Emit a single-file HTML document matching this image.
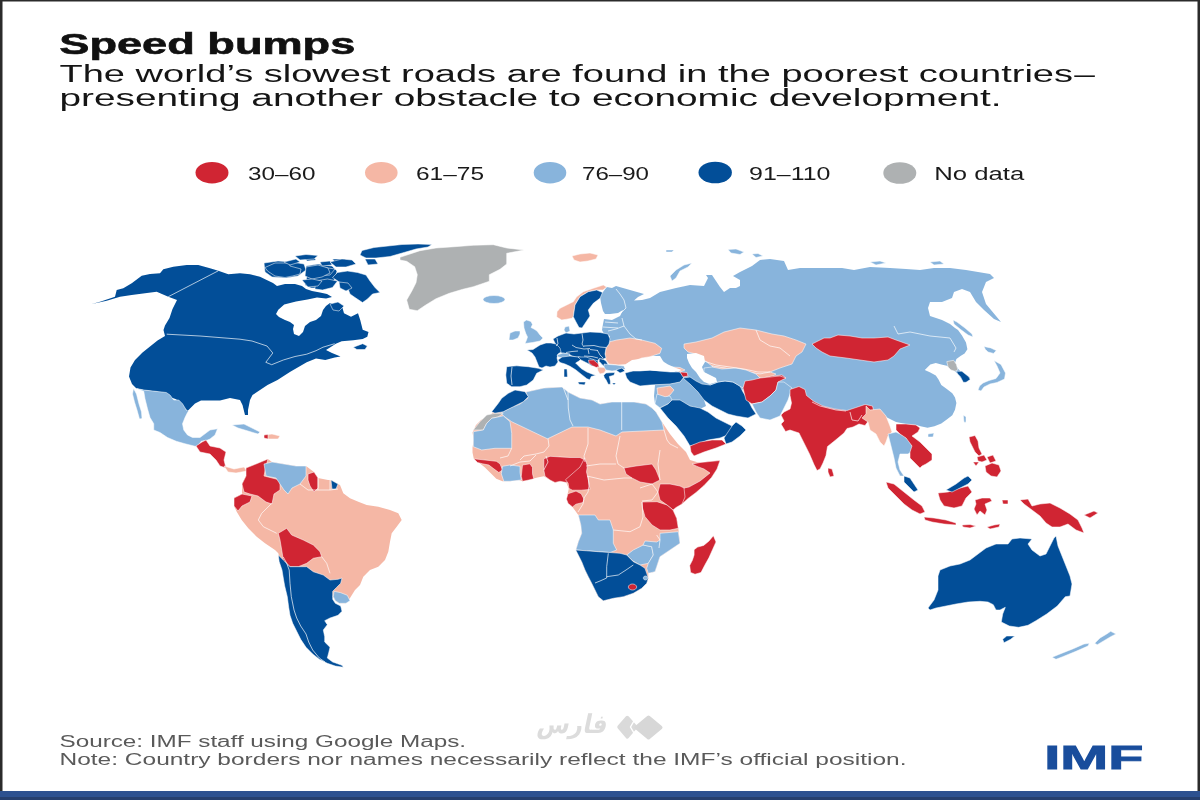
<!DOCTYPE html>
<html><head><meta charset="utf-8"><title>Speed bumps</title>
<style>
html,body{margin:0;padding:0;background:#fff;}
body{width:1200px;height:800px;overflow:hidden;position:relative;}
svg{position:absolute;left:0;top:0;}
.s{stroke:#fff;stroke-width:0.7;stroke-opacity:0.75;stroke-linejoin:round;}
.t{font-family:"Liberation Sans",sans-serif;}
</style></head><body>
<svg width="1200" height="800" viewBox="0 0 1200 800">
<rect x="0" y="0" width="1200" height="800" fill="#fff"/>
<g class="t">
<text x="59.3" y="53.5" font-size="29" font-weight="bold" fill="#111" stroke="#111" stroke-width="0.6" textLength="296" lengthAdjust="spacingAndGlyphs">Speed bumps</text>
<text x="59.5" y="81.8" font-size="23.5" fill="#151515" textLength="1013.5" lengthAdjust="spacingAndGlyphs">The world’s slowest roads are found in the poorest countries</text><text x="1074.3" y="81.8" font-size="23.5" fill="#151515" textLength="20.6" lengthAdjust="spacingAndGlyphs">—</text>
<text x="59.5" y="106.3" font-size="23.5" fill="#151515" textLength="942" lengthAdjust="spacingAndGlyphs">presenting another obstacle to economic development.</text>
</g>
<g>
<ellipse cx="212" cy="172.7" rx="16.5" ry="10.8" fill="#d02533"/>
<ellipse cx="381.3" cy="172.7" rx="16.3" ry="10.8" fill="#f5b7a5"/>
<ellipse cx="550" cy="172.7" rx="16.3" ry="10.8" fill="#88b4dc"/>
<ellipse cx="715.2" cy="172.5" rx="16.7" ry="10.8" fill="#024e98"/>
<ellipse cx="899.8" cy="173" rx="16.5" ry="10.8" fill="#aeb1b2"/>
</g>
<g class="t" font-size="17.5" fill="#1a1a1a">
<text x="248" y="179.5" textLength="67.5" lengthAdjust="spacingAndGlyphs">30–60</text>
<text x="416" y="179.5" textLength="68" lengthAdjust="spacingAndGlyphs">61–75</text>
<text x="582" y="179.5" textLength="67" lengthAdjust="spacingAndGlyphs">76–90</text>
<text x="749" y="179.5" textLength="81.5" lengthAdjust="spacingAndGlyphs">91–110</text>
<text x="934.3" y="179.7" textLength="90" lengthAdjust="spacingAndGlyphs">No data</text>
</g>
<g id="map" stroke="none">
<path fill="#024e98" d="M92,304 L100,301.7 L115,296.7 L116.7,290 L123.3,288.3 L131.7,283.3 L141.7,275.8 L150,274 L160,273.3 L163.3,269.2 L173.3,266.7 L186.7,265 L198.3,265 L210,268.3 L218.3,270.8 L228.3,274.2 L240,273.3 L250,274.2 L260,276.7 L266.7,280 L273,283 L277,286 L285,284 L295,284 L302,286 L306,289 L312,291 L320,292.5 L327,294 L332,297 L326,298.5 L317,297.5 L307.5,299.5 L296,301.5 L284.2,304.5 L278.3,309.8 L276,314 L279,317 L285,320 L290,322 L294,325 L293,329 L294,334 L299,336 L303,332 L305,326 L310,322 L316,320 L321,316 L323,310 L326,306 L330,303 L332.3,304 L341.7,305.2 L344,313.3 L351,316.8 L358,313.3 L360.3,320.3 L362.7,329.7 L368.5,332 L367.3,336.7 L362.7,339 L353.3,340.2 L341.7,341.3 L335.8,343.7 L332.3,346 L326,350 L332,353 L340.5,356.5 L334.7,357.5 L325.3,360 L316,358.5 L306.7,362.3 L298.5,367 L290.3,371.7 L283.3,376.3 L277.5,380 L267.5,385 L260,390 L252.5,395 L250,400 L248,410 L248,415 L245,415 L242.5,405 L240,400 L230,398 L220,400.5 L210,400.5 L201,400.5 L195,403.5 L190.5,408 L187.5,411 L184.5,408 L180,402 L175.5,399 L171,397.5 L165,393 L156,391.5 L144,390 L136.5,388.5 L132,384 L129,376.5 L130.5,367.5 L135,360 L142.5,352.5 L150,346.5 L157.5,340.5 L165,336 L163.5,330 L165,325.5 L169.5,318 L172.5,309 L177,300 L168.3,296.7 L156.7,291.7 L145,293.3 L131.7,295 L120,296.7 L106.7,300.8Z"/>
<path class="s" fill="#024e98" d="M353.3,347.2 L362.7,343.7 L367.3,346 L365,349.5 L356.9,349.5Z"/>
<path class="s" fill="#024e98" d="M264,263 L278,261 L292,262 L304,264 L306,270 L298,276 L286,278 L272,277 L265,272Z"/>
<path class="s" fill="#024e98" d="M306,266 L318,264 L332,266 L337,271 L335,279 L329,285 L320,288 L311,288 L305,285 L307,276Z"/>
<path class="s" fill="#024e98" d="M265,267.5 L275,263 L288.75,263 L290,266 L301,269 L300,274 L292.5,276 L285,277.5 L275,276 L267.5,271Z"/>
<path class="s" fill="#024e98" d="M312.5,269 L325,267.5 L335,269 L330,275 L317.5,276 L310,274Z"/>
<path class="s" fill="#024e98" d="M301,256 L312.5,255 L316,260 L307.5,261Z"/>
<path class="s" fill="#024e98" d="M332.5,259 L345,259 L350,264 L337.5,265Z"/>
<path class="s" fill="#024e98" d="M315,281 L327.5,279 L337.5,281 L332.5,287.5 L322.5,290 L315,289Z"/>
<path class="s" fill="#024e98" d="M337.5,272.5 L347.5,271 L357.5,272.5 L366,275 L370,281 L375,287.5 L380,292.5 L372.5,294 L367.5,299 L362.5,302.5 L355,297.5 L350,294 L347.5,287.5 L340,282.5 L332.5,277.5Z"/>
<path class="s" fill="#024e98" d="M362,250.5 L374,247.5 L388,246 L402,244.5 L418,244 L432,244.5 L428,247 L416,249 L404,252.5 L390,256.5 L376,258 L366,258 L360,255Z"/>
<path class="s" fill="#024e98" d="M284,262 L296,259 L300,262 L290,265Z"/>
<path class="s" fill="#024e98" d="M320,262 L330,261 L332,265 L322,266Z"/>
<path class="s" fill="#024e98" d="M330,304 L338,302 L344,306 L339,311 L333,310Z"/>
<path class="s" fill="#024e98" d="M306,267 L318,265 L328,268 L330,273 L322,277 L312,279 L305,276Z"/>
<path class="s" fill="#024e98" d="M302,280 L312,279 L322,281 L318,286 L308,287Z"/>
<path class="s" fill="#024e98" d="M330,262 L342,259 L352,260 L356,264 L346,267 L336,267Z"/>
<path class="s" fill="#024e98" d="M295,256 L306,254.5 L318,255.5 L314,259 L300,260Z"/>
<path class="s" fill="#024e98" d="M339,282 L348,283 L352,288 L346,291 L340,288Z"/>
<path class="s" fill="#024e98" d="M365,259 L375,259 L378,264 L368,265Z"/>
<path class="s" fill="#aeb1b2" d="M400,257.3 L420,250.7 L436,248 L454.7,246.7 L473.3,245.3 L493.3,244.7 L506.7,248 L524,250 L506.7,253.3 L506.7,264 L500,269.3 L489.3,274.7 L489.3,281.3 L481.3,284 L473.3,286.7 L462.7,289.3 L449.3,293.3 L436,298.7 L425.3,305.3 L417.3,310.7 L409.3,309.3 L406.7,300 L412,290.7 L416,282.7 L417.3,274.7 L414.7,266.7 L406.7,261.3 L400,260Z"/>
<path class="s" fill="#88b4dc" d="M505,299.5 L504.2,301 L501.8,302.3 L498.2,303.2 L494,303.5 L489.8,303.2 L486.2,302.3 L483.8,301 L483,299.5 L483.8,298 L486.2,296.7 L489.8,295.8 L494,295.5 L498.2,295.8 L501.8,296.7 L504.2,298Z"/>
<path class="s" fill="#88b4dc" d="M136.5,388.5 L143.75,390 L155,391.25 L166.25,392.5 L170,395 L173.75,400 L178.75,400 L182.5,403.75 L186.25,410 L188.5,411.5 L187.5,412.5 L185,417.5 L182.5,423.75 L183.75,430 L187.5,435 L192.5,437.5 L200,437.5 L205,433.75 L210,430 L217.5,428.75 L215,435 L210,439 L207.5,440 L201.25,441.25 L197.5,446.25 L195,446.25 L185,443.75 L176.25,441.25 L167.5,437.5 L160,432.5 L153.75,430 L153.75,423.75 L150,417.5 L147.5,408.75 L145,398.75 L143.75,391.25Z"/>
<path class="s" fill="#88b4dc" d="M133.5,388.5 L136.5,394 L139,404 L141.5,412 L142,418.5 L139.5,419 L137,410 L134.5,402 L132.5,394Z"/>
<path class="s" fill="#d02533" d="M196,446 L202,442 L206,440 L210,446 L220,448 L226,452 L224,460 L226,468 L220,466 L216,460 L210,454 L200,452Z"/>
<path class="s" fill="#f5b7a5" d="M224,466 L234,469 L244,467 L247,471 L236,473 L228,472Z"/>
<path class="s" fill="#88b4dc" d="M232,425 L244,424 L252,428 L260,432 L258,434 L248,431 L238,428Z"/>
<path class="s" fill="#f5b7a5" d="M264,435 L272,434 L280,436 L278,439 L268,439Z"/>
<path class="s" fill="#d02533" d="M264,435 L268,434.5 L268,439 L264,438Z"/>
<path fill="#88b4dc" d="M603,311 L601,303 L600,296 L603,292 L606.7,287 L612,288 L616,286 L630,290 L644,294 L638,297 L634,300.5 L642,300 L650,298 L660,292 L676,288 L690,285 L704,286 L708,278 L706,275 L712,275 L716,281 L720,287 L724,292 L730,288 L736,288 L740,286 L740,280 L733,276 L740,272 L752,266 L760,260 L770,259 L784,261 L788,270 L800,268 L812,268 L826,268 L842,268 L854,270 L870,267 L890,268 L906,269 L920,270 L934,268 L950,268 L966,270 L978,272 L990,274 L994,278 L986,282 L982,292 L986,304 L996,316 L1001,322 L994,319 L984,310 L976,302 L970,292 L962,289 L954,292 L952,298 L942,302 L930,302 L928,308 L930,316 L942,320 L950,324 L955,328 L958,330 L962,335.5 L966,342.4 L967.4,349.3 L964.6,353.4 L960.5,356.1 L956.4,358.9 L955,363 L957.8,368.5 L960.5,371.3 L964.6,374 L970.2,378.1 L967.4,380.9 L964.6,382.3 L961.9,379.5 L959.1,375.4 L955,371.3 L950.9,368.5 L946.8,365.8 L941.3,364.4 L935.8,363 L930.3,364.4 L924.8,369.9 L930.3,372.6 L935.8,375.4 L938.5,379.5 L941.3,385 L946.8,389.1 L952.3,393.3 L955,397.4 L956.4,402.9 L955,409.8 L952.3,415.3 L946.8,419.4 L941.3,423.5 L934.4,426.3 L927.5,427.7 L920.6,426.3 L916.5,424.9 L906,424 L896,422 L888,418 L880,414 L874,410 L866,412 L840,414 L815,408 L795,398 L785,390 L775,388 L750,390 L720,388 L700,386 L690,380 L684,376 L676,372 L666,366 L660,356 L650,356 L640,358 L630,362 L620,364 L610,362 L606,354 L608,342 L610,336 L604,334 L602,330 L603,324 L604,319 L612,320 L620,316 L623,310 L618,313 L610,314 L605,314Z"/>
<path class="s" fill="#88b4dc" d="M692,263 L684,265 L676,270 L670,276 L672,281 L676,278 L680,271 L688,267Z"/>
<path class="s" fill="#88b4dc" d="M953,320 L957,322 L965,328 L972,334 L973,337 L968,335 L960,329 L954,324Z"/>
<path class="s" fill="#88b4dc" d="M994,360.5 L1001,364.5 L1005.5,373 L1004.5,379 L997,382.5 L990,384 L984,387 L981,391 L978,390 L979.5,386 L983,383 L989,380.5 L996,378.5 L1000,373 L997,366Z"/>
<path class="s" fill="#88b4dc" d="M983.9,346.5 L990.8,347.9 L996.3,350.6 L993.5,353.4 L988,352 L985.3,349.3Z"/>
<path class="s" fill="#88b4dc" d="M963.3,415.3 L966,416.7 L966,422.2 L964,422.2Z"/>
<path class="s" fill="#88b4dc" d="M928,434 L934,433 L933,437 L928,437Z"/>
<path class="s" fill="#aeb1b2" d="M946.8,361.6 L953.6,360.3 L956.4,364.4 L957.8,369.9 L955,371.3 L950.9,369.9 L948.1,367.1Z"/>
<path class="s" fill="#024e98" d="M956.4,371.3 L961.9,371.3 L968.8,376.8 L970.2,379.5 L966,382.3 L963.3,382.3 L960.5,376.8 L957.8,374Z"/>
<path class="s" fill="#d02533" d="M830,338 L838,335 L850,336 L862,338 L874,338 L888,337 L896,340 L910,345 L900,349 L894,356 L888,360 L874,362 L860,360 L846,358 L830,356 L822,352 L816,348 L812,344 L824,338Z"/>
<path class="s" fill="#f5b7a5" d="M684,344 L696,342 L712,338 L724,332 L740,328 L756,330 L772,334 L784,336 L796,340 L806,344 L802,352 L796,356 L792,364 L780,368 L770,372 L760,374 L748,372 L736,370 L724,368 L712,366 L704,360 L696,354 L688,352 L684,348Z"/>
<path class="s" fill="#f5b7a5" d="M712,366 L724,368 L736,370 L748,372 L760,374 L770,372 L776,374 L770,378 L760,378 L752,380 L744,382 L736,378 L726,374 L716,372Z"/>
<path class="s" fill="#d02533" d="M762,378 L772,376 L782,375 L786,378 L778,381 L768,381Z"/>
<path class="s" fill="#f5b7a5" d="M610,341.7 L616.7,340 L630,338 L641.7,340 L655,343.3 L661.7,348.3 L660,353.3 L650,356.7 L641.7,358 L636.7,360 L630,362 L626,364.5 L618,365 L609,364 L606,360 L605,354 L606,348 L609,344Z"/>
<path class="s" fill="#f5b7a5" d="M556.7,317 L557,311.7 L560,308.3 L566.7,305 L573.3,301.7 L576.7,296.7 L583.3,291.7 L593.3,288.3 L603.3,285 L606.7,287 L603,290 L596.7,290 L588.3,291.7 L580,296.7 L575,305 L573.3,316.7 L571.7,318.3 L566.7,319.2 L561.7,320Z"/>
<path class="s" fill="#024e98" d="M575,305 L580,296.7 L588.3,291.7 L596.7,290 L602.5,292.5 L600,298.3 L593.3,303.3 L588.3,310 L590,316 L586,322 L582,328 L579,327.5 L576,322 L573.3,316.7Z"/>
<path class="s" fill="#88b4dc" d="M565,327 L569,326 L570,331 L566,333 L564,330Z"/>
<path class="s" fill="#88b4dc" d="M523.5,322 L526.5,320 L531,321.5 L532.5,324.5 L531,327.5 L534,329 L537,331 L540,335 L543,338 L540,341 L532.5,342.5 L525,343.5 L526.5,340 L527.5,337 L525.8,333.5 L524,328Z"/>
<path class="s" fill="#88b4dc" d="M510,333 L515,331 L520,331 L520,334 L518,338 L513,340 L509,340 L509.5,336Z"/>
<path class="s" fill="#024e98" d="M553,339 L558,336 L566,333 L574,334 L582,333 L590,332 L600,332.5 L608,334 L610,339 L609,344 L606,348 L605,354 L606,358 L603,359 L599,359 L597,362 L590,362 L585,360 L580,357 L576,357 L572,356 L568,354 L562,353 L558,351 L556,345Z"/>
<path class="s" fill="#024e98" d="M540,345 L546,343 L551,343 L556,344 L560,348 L561,352 L558,354 L557,358 L558,362 L555,366 L550,367 L546,366 L542,368 L539,367 L537,362 L535,357 L532,353 L527,350 L533,349.5Z"/>
<path class="s" fill="#024e98" d="M506.7,366.7 L516.7,365.8 L528.3,366.7 L538.3,368.3 L543.3,370 L536.7,373.3 L533.3,380 L526.7,385 L520,386.7 L511.7,386.7 L506.7,383.3 L505.8,375Z"/>
<path class="s" fill="#88b4dc" d="M557,355 L563,353 L570,354 L569,357 L563,358 L558,357Z"/>
<path class="s" fill="#024e98" d="M558,360 L562,357 L570,356 L578,357 L582,358 L579,361 L575.6,363 L581.2,368.6 L586.9,372 L592.5,374.2 L595.8,375.3 L591.3,376.5 L589.7,379.8 L586.9,378.7 L581.2,374.2 L575.6,369.7 L570,366.3 L565,364 L560,362.5Z"/>
<path class="s" fill="#024e98" d="M577.9,382 L585.7,382 L584.6,384.9 L579,384.3Z"/>
<path class="s" fill="#024e98" d="M564,369 L567,369 L567.5,377 L564,377Z"/>
<path class="s" fill="#024e98" d="M578,357 L586,357 L592,359 L598,361 L598,365 L592,366 L589,364 L585,362 L581,360Z"/>
<path class="s" fill="#024e98" d="M599.2,358.5 L603.7,359.6 L606,361 L608.2,364.7 L608.8,367.5 L604.8,367 L601.5,364 L599.2,361.3Z"/>
<path class="s" fill="#d02533" d="M588.5,360 L593.6,360 L598,363.5 L599.2,367 L596.4,367.5 L592.5,365.8 L589,363Z"/>
<path class="s" fill="#f5b7a5" d="M597,367 L604.8,367.5 L606,370 L604,373 L600,374 L598,371Z"/>
<path class="s" fill="#88b4dc" d="M604,364 L609,364.5 L616,365 L624,366 L626,369 L620,370 L612,371 L606,370 L604,367Z"/>
<path class="s" fill="#024e98" d="M603.7,375.3 L606,373 L609.3,372.8 L615,372.5 L613.8,375.3 L609.3,376.5 L610.4,381 L610.4,384.3 L608.2,384.3 L606,379.8 L604.3,377.6Z"/>
<path class="s" fill="#024e98" d="M612,383 L616,383 L614,385Z"/>
<path fill="#88b4dc" d="M655,385 L660,384.5 L670,384 L680,382 L684,377 L690,377 L696,381 L700,390 L704,400 L706,406 L700,409 L690,406 L680,402 L670,400 L660,404 L655,404 L654,396Z"/>
<path class="s" fill="#024e98" d="M625,373 L633,371 L640,371 L650,370 L660,371 L670,372 L680,372 L684,377 L680,382 L670,384 L660,384.5 L650,385 L640,386 L630,382 L626.7,378Z"/>
<path class="s" fill="#024e98" d="M616,370 L622,368 L625,371 L620,373Z"/>
<path class="s" fill="#f5b7a5" d="M672,367 L680,367.5 L685,370 L680,372 L673,370Z"/>
<path class="s" fill="#d02533" d="M680,372 L687,372.5 L688,376 L683,377Z"/>
<path class="s" fill="#024e98" d="M683,378 L690,377 L696,381 L702,384 L710,385 L718,382 L725,381 L733,382 L740,386 L743,392 L748,400 L752,408 L756,414 L748,418 L736,416 L728,414 L720,410 L712,406 L704,400 L698,392 L690,384Z"/>
<path class="s" fill="#88b4dc" d="M704,368 L712,367 L722,369 L736,368 L746,370 L756,374 L760,378 L752,382 L745,383 L743,388 L733,382 L725,381 L718,382 L710,385 L704,380Z"/>
<path class="s" fill="#f5b7a5" d="M657,388 L670,386 L674,390 L670,395 L665,398 L658,396Z"/>
<path class="s" fill="#88b4dc" d="M657,394 L665,396.7 L670,396 L672,400 L668,404 L660,408 L655,404Z"/>
<path class="s" fill="#024e98" d="M660,408 L668,404 L672,400 L680,400 L690,406 L700,408 L708,412 L716,418 L724,422 L732,426 L730,434 L720,438 L708,440 L698,444 L690,446 L684,436 L676,426 L668,418Z"/>
<path class="s" fill="#024e98" d="M732,426 L736,422 L742,426 L746,430 L740,436 L732,442 L726,444 L724,438Z"/>
<path class="s" fill="#d02533" d="M690,446 L700,442 L712,440 L722,440 L726,444 L716,448 L704,452 L694,456 L691,452Z"/>
<path class="s" fill="#d02533" d="M743,388 L745,381 L752,380 L760,378 L770,377 L780,376 L786,378 L778,382 L776,390 L770,396 L762,402 L752,404 L746,400Z"/>
<path class="s" fill="#88b4dc" d="M752,404 L762,402 L770,396 L776,390 L778,382 L784,382 L792,388 L788,400 L784,408 L780,416 L770,420 L760,418 L756,412Z"/>
<path class="s" fill="#d02533" d="M790,389.5 L799,386.5 L805,389.5 L806.5,395.5 L814,401.5 L823,406 L835,409 L847,410.5 L856,407.5 L865,404.5 L872.5,406 L874,412 L869.5,419.5 L865,425.5 L859,424 L853,427 L847,428.5 L844,433 L835,440.5 L827.5,446.5 L826,455.5 L823,463 L820,469 L817,470.5 L814,464.5 L809.5,454 L803.5,442 L799,433 L794.5,431.5 L790,430 L785.5,431.5 L781,424 L784,421 L781,415 L784,412 L790,409 L791.5,403 L790,395.5Z"/>
<path class="s" fill="#d02533" d="M828,468 L832,469 L834,476 L830,477 L828,472Z"/>
<path class="s" fill="#f5b7a5" d="M866,406 L870,410 L880,409 L886,416 L890,426 L892,432 L888,436 L886,442 L884,446 L880,442 L876,434 L870,430 L868,422 L862,418 L866,414Z"/>
<path class="s" fill="#88b4dc" d="M888,434 L896,432 L904,436 L910,442 L914,450 L908,454 L900,454 L898,462 L900,470 L904,476 L900,476 L896,468 L894,458 L892,450 L890,442Z"/>
<path class="s" fill="#d02533" d="M896,424 L906,424 L916,425 L920,428 L918,432 L912,436 L920,442 L926,448 L932,454 L932,460 L926,464 L922,466 L920,468 L914,462 L910,458 L910,452 L912,446 L906,438 L900,434 L896,430Z"/>
<path class="s" fill="#024e98" d="M904,476 L910,478 L914,484 L918,490 L914,492 L908,486 L904,482Z"/>
<path class="s" fill="#d02533" d="M886,482 L894,484 L904,492 L914,500 L922,506 L925,512 L920,514 L912,510 L904,504 L896,496 L888,488Z"/>
<path class="s" fill="#d02533" d="M924,517 L934,518 L946,520 L956,523 L956,525 L944,524 L932,522 L925,520Z"/>
<path class="s" fill="#d02533" d="M962,525 L970,524.5 L976,526 L970,528 L963,527Z"/>
<path class="s" fill="#d02533" d="M987,527 L994,525 L1000,524 L999,527 L990,529Z"/>
<path class="s" fill="#d02533" d="M938,493 L948,492 L960,488 L968,486 L972,492 L966,498 L962,506 L954,508 L944,506 L940,500Z"/>
<path class="s" fill="#024e98" d="M946,490 L956,484 L964,478 L968,476 L972,480 L968,484 L960,488 L952,492Z"/>
<path class="s" fill="#d02533" d="M975,500 L982,498 L990,498 L992,501 L985,504 L987,510 L985,515 L980,511 L977,515 L974,509 L976,504Z"/>
<path class="s" fill="#d02533" d="M969,437 L975,435.5 L978,441 L979,448 L982,454 L979,456 L975,452 L972,446 L970,442Z"/>
<path class="s" fill="#d02533" d="M985,466 L992,463 L999,465 L1001,471 L997,477 L991,476 L986,472Z"/>
<path class="s" fill="#d02533" d="M977,457 L984,455 L987,460 L982,462 L978,461Z"/>
<path class="s" fill="#d02533" d="M987,457 L993,455 L996,461 L990,463Z"/>
<path class="s" fill="#d02533" d="M973,462 L979,462 L976,466Z"/>
<path class="s" fill="#d02533" d="M1020,500 L1028,499 L1032,506 L1040,504 L1050,503 L1060,508 L1070,514 L1078,520 L1082,528 L1084,533 L1076,530 L1068,524 L1060,527 L1052,527 L1046,523 L1040,516 L1032,510 L1024,504Z"/>
<path class="s" fill="#d02533" d="M1084,515 L1094,511 L1098,513 L1090,518Z"/>
<path class="s" fill="#d02533" d="M1002,500 L1008,500 L1008,504 L1003,504Z"/>
<path class="s" fill="#024e98" d="M928,608 L934,600 L938,590 L938,576 L940,570 L950,566 L960,564 L970,560 L978,554 L986,548 L996,544 L1008,544 L1012,539 L1020,538 L1032,539 L1028,544 L1032,550 L1040,556 L1046,554 L1050,546 L1054,538 L1056,536 L1058,546 L1062,556 L1066,566 L1070,576 L1072,584 L1070,596 L1065.3,596.7 L1057.3,606 L1046.7,614 L1036,620.7 L1028,625.3 L1018.7,627.3 L1009.3,626 L1001.3,622 L1002.7,614 L1005.3,607.3 L1000,610 L996,610 L993.3,604.7 L988,602 L980,601.3 L968,602 L956,604 L946,606 L936,608 L930,610Z"/>
<path class="s" fill="#024e98" d="M1002.7,639.3 L1006.7,636 L1014.7,636 L1010.7,639.3 L1004,642.7Z"/>
<path class="s" fill="#88b4dc" d="M1052,657.3 L1060,654 L1073.3,648.7 L1084,644 L1089.3,643.3 L1088,646 L1076,651.3 L1062.7,656.7 L1056,659.3Z"/>
<path class="s" fill="#88b4dc" d="M1094.7,643.3 L1100,638 L1106.7,634 L1110.7,631.3 L1116,634 L1110.7,636.7 L1104,640.7 L1097.3,644.7Z"/>
<path fill="#f5b7a5" d="M504,398 L510,394 L520,391 L526,392 L544,388 L562,387 L568,392 L580,398 L592,400 L600,404 L612,402 L622,402 L634,402 L646,404 L652,408 L656,412 L662,422 L670,434 L678,444 L686,452 L690,460 L700,463 L712,461 L720,460.5 L717,469 L711.5,477.5 L704,485.5 L696,492.5 L688,498.5 L682,504 L676,507.5 L673,510 L676.7,518.3 L678.3,528.3 L680,543.3 L670,550 L660,556.7 L656.7,566.7 L655,571.7 L648.3,573.3 L648.3,578.3 L646.7,583.3 L641.7,588.3 L633.3,593.3 L623.3,596.7 L613.3,598.3 L603.3,600.8 L598.3,596.7 L595,590 L591.7,583.3 L588.3,576.7 L585,570 L581.7,561.7 L578.3,555 L575.8,550 L578.3,541.7 L581.7,533.3 L580.8,525 L578.3,515 L572.5,507 L568.8,501.3 L566.9,497 L568.8,488.8 L566.3,482.5 L562.5,481.3 L555,482.5 L550,480 L543.8,476.3 L537.5,477.5 L530,479.4 L522.5,481.3 L518.8,480 L510,481.3 L502.5,481.3 L496.3,478.8 L490,472.5 L485,467.5 L478.8,462.5 L473.8,458.8 L472.5,452.5 L472.5,447.5 L473.8,440 L472.5,432.5 L476,425 L481,420 L490,416 L496,408 L500,402Z"/>
<path class="s" fill="#88b4dc" d="M501,413 L510,408 L520,404 L528,398 L526,392 L544,388 L562,387 L568,392 L580,398 L592,400 L600,404 L612,402 L622,402 L634,402 L646,404 L652,408 L656,412 L662,422 L664,430 L622,432 L616,436 L600,430 L588,427 L572,427 L547.5,438.8 L511.7,421.7 L503.3,415.8Z"/>
<path class="s" fill="#024e98" d="M491.7,411.7 L498.3,403.3 L501.7,398.3 L508.3,393.3 L515,390 L525,391.7 L528.3,396.7 L523.3,401.7 L513.3,406.7 L503.3,411.7 L495,413.3Z"/>
<path class="s" fill="#aeb1b2" d="M473.3,430 L480,421.7 L486.7,415 L495,413.3 L503.3,413.3 L498,417 L491.7,418.3 L486.7,423.3 L483.3,430Z"/>
<path class="s" fill="#88b4dc" d="M473.3,431.7 L483.3,430 L486.7,423.3 L491.7,418.3 L498,417 L503.3,415.8 L510,421.7 L511.7,433.3 L511.7,448.3 L495,448.3 L481.7,450 L473.3,446.7Z"/>
<path class="s" fill="#d02533" d="M473.8,458.8 L485,460 L496.3,461.3 L500,463.8 L502.5,470 L498.8,472.5 L493.8,468.8 L488.8,465 L482.5,463.8 L477.5,462.5Z"/>
<path class="s" fill="#88b4dc" d="M502.5,466.3 L510,465 L520,466.3 L520,472.5 L521.3,480 L510,481.3 L503.8,481.3 L501.3,473.8Z"/>
<path class="s" fill="#d02533" d="M522.5,465 L530,463.8 L532.5,467.5 L532.5,473.8 L533.8,478.8 L528.8,480 L522.5,481.3 L521.3,476.3Z"/>
<path class="s" fill="#d02533" d="M543.8,458.8 L550,456.3 L560,456.9 L570,457.5 L580,457.5 L585,460 L585,465 L580,470 L575,475 L570,478.8 L566.3,482.5 L560,481.3 L555,482.5 L550,480 L545,476.3 L543.8,470Z"/>
<path class="s" fill="#d02533" d="M584.7,457.9 L587.4,465.7 L586.5,471.9 L588.2,478.9 L590,489.4 L581.2,490.2 L572.5,490.2 L569,488.5 L568.1,483.2 L565.5,479.7 L572,474 L580,467Z"/>
<path class="s" fill="#d02533" d="M568,493.7 L576,491.1 L581.2,493.7 L583.9,499 L583,502.5 L576,504.2 L572.5,506.9 L568.1,503.4 L566.4,499Z"/>
<path class="s" fill="#d02533" d="M624,468 L636,466 L652,464 L656,470 L660,480 L652,484 L640,482 L632,478 L626,474Z"/>
<path class="s" fill="#d02533" d="M692,464 L700,462.5 L710,461.5 L720,460.5 L717,469 L711.5,477.5 L704,485.5 L696,492.5 L688,498.5 L682,504 L678,500 L681,494 L684,488 L689,487 L700,481 L710,473 L704,469 L697,466.4Z"/>
<path class="s" fill="#d02533" d="M660,484 L670,484 L680,486 L684,488 L685,497 L682,504 L676,507.5 L673,510 L667,505 L660,500 L658,492Z"/>
<path class="s" fill="#d02533" d="M642,502 L657,501.7 L667,505 L673,510 L676.7,518.3 L678.3,528.3 L670,530 L660,530 L652,525 L645,516.7 L642.5,508Z"/>
<path class="s" fill="#88b4dc" d="M578.3,515 L595,515 L598.3,520 L610,520 L613.3,530 L613.3,543.3 L616.7,550 L610,552.5 L598.3,551.7 L586.7,550.8 L575.8,550 L578.3,541.7 L581.7,533.3 L580.8,525Z"/>
<path class="s" fill="#88b4dc" d="M626.7,555 L633.3,550 L643.3,545 L651.7,546.7 L653.3,555 L648.3,563.3 L640,565 L633,561Z"/>
<path class="s" fill="#88b4dc" d="M660,533.3 L678.3,531.7 L680,543.3 L670,550 L660,556.7 L656.7,566.7 L655,571.7 L648.3,573.3 L646.7,568.3 L648.3,563.3 L653.3,555 L651.7,546.7 L643,545 L645,541 L656.7,542 L660,540Z"/>
<path class="s" fill="#024e98" d="M575.8,550 L586.7,550.8 L598.3,551.7 L610,552.5 L620,553.3 L626.7,555 L633.3,561.7 L640,565 L645,568.3 L646.7,573.3 L648.3,578.3 L646.7,583.3 L641.7,588.3 L633.3,593.3 L623.3,596.7 L613.3,598.3 L603.3,600.8 L598.3,596.7 L595,590 L591.7,583.3 L588.3,576.7 L585,570 L581.7,561.7 L578.3,555Z"/>
<path class="s" fill="#d02533" d="M636.7,587 L636.4,588.1 L635.5,589.1 L634.1,589.8 L632.5,590 L630.9,589.8 L629.5,589.1 L628.6,588.1 L628.3,587 L628.6,585.9 L629.5,584.9 L630.9,584.2 L632.5,584 L634.1,584.2 L635.5,584.9 L636.4,585.9Z"/>
<path class="s" fill="#88b4dc" d="M647.7,578 L647.5,578.8 L647.1,579.4 L646.3,579.8 L645.5,580 L644.7,579.8 L643.9,579.4 L643.5,578.8 L643.3,578 L643.5,577.2 L643.9,576.6 L644.7,576.2 L645.5,576 L646.3,576.2 L647.1,576.6 L647.5,577.2Z"/>
<path class="s" fill="#d02533" d="M713.4,535.7 L716,541.9 L712.5,549.7 L709,557.6 L704.6,565.5 L701,572.5 L695,574.2 L690.6,572.5 L689.7,565.5 L692.4,560.2 L694.1,555 L694.1,549.7 L697.6,547.1 L703.7,545.4 L709,541Z"/>
<path fill="#f5b7a5" d="M246,468 L256,464 L268,459 L272,462 L284,464 L296,466 L306,466 L314,472 L318,478 L328,480 L331,480 L338,484 L340,485 L343.3,493.3 L350,498.3 L358.3,501.7 L366.7,505 L378.3,506.7 L390,510 L398.3,513.3 L401.7,520 L396.7,526.7 L391.7,533.3 L390,541.7 L388.3,551.7 L385,560 L378.3,566.7 L370,570 L363.3,576.7 L360,585 L355,590 L350,598 L346,603.3 L339.3,603.3 L335.3,600.7 L333.3,596.7 L330,590 L320,580 L300,570 L280,560 L278.3,553.3 L275,550 L265,543.3 L256.7,536.7 L248.3,528.3 L241.7,520 L236.7,511.7 L234,506 L234,498 L242,494 L242,484 L246,476Z"/>
<path class="s" fill="#d02533" d="M246,468 L256,464 L268,459 L266,466 L264,476 L272,478 L280,480 L280,490 L274,494 L272,504 L266,502 L258,496 L250,494 L244,492 L242,484 L246,476Z"/>
<path class="s" fill="#d02533" d="M234,498 L242,494 L252,496 L250,502 L242,506 L238,511 L234,506Z"/>
<path class="s" fill="#88b4dc" d="M264,464 L272,462 L284,464 L296,466 L306,466 L306,476 L300,484 L292,488 L288,494 L284,490 L280,484 L276,478 L266,476Z"/>
<path class="s" fill="#d02533" d="M308,474 L314,472 L318,478 L318,488 L314,492 L310,486 L308,480Z"/>
<path class="s" fill="#024e98" d="M331,480 L338,484 L336,489 L332,489Z"/>
<path class="s" fill="#d02533" d="M278.3,533.3 L286.7,528.3 L291.7,535 L303.3,540 L313.3,545 L320,551.7 L321.7,556.7 L313.3,558.3 L306.7,563.3 L298.3,566.7 L290,566.7 L283.3,560 L281.7,550 L280,540Z"/>
<path class="s" fill="#024e98" d="M278.3,555 L283.3,560 L290,566.7 L300,566.7 L306.7,566.7 L313.3,571.7 L323.3,575 L330,580 L338,579.3 L342,578 L340.7,583.3 L336.7,587.3 L332.7,591.3 L332.7,599.3 L335.3,603.3 L340.7,606 L342,611.3 L338,615.3 L330,618 L324.7,620.7 L327.3,624.7 L323.3,630 L324.7,636.7 L324.7,642 L330,647.3 L328.7,652.7 L327.3,658 L332.7,662 L342,665.3 L343.3,667.3 L335.3,666 L327.3,663.3 L319.3,659.3 L312.7,654 L306,647.3 L300.7,639.3 L296.7,631.3 L292.7,623.3 L290,615.3 L288.7,607.3 L287.3,596.7 L284.7,586 L283.3,578 L282,570 L279.2,561.7Z"/>
<path class="s" fill="#88b4dc" d="M334,591.3 L340.7,592.7 L347.3,595.3 L350,600.7 L346,603.3 L339.3,603.3 L335.3,600.7 L333.3,596.7Z"/>
<path fill="#ffffff" d="M626,364 L632,360 L640,359 L650,358.5 L660,359.5 L668,364.5 L676,368 L682,370 L678,371.5 L670,371 L660,371.2 L650,370.5 L640,370.8 L633,371 L626,370 L624,367Z"/>
<path fill="#ffffff" d="M687,354 L696,353 L704,356 L705,362 L702,367 L704,372 L710,375 L716,378 L717,382 L710,384 L704,382 L700,378 L696,372 L692,368 L689,363 L687,358Z"/>
<path class="s" fill="#f5b7a5" d="M572,256 L580,254 L590,253 L598,255 L596,259 L588,261 L580,262 L574,260Z"/>
<path class="s" fill="#88b4dc" d="M728,249.5 L736,249 L744,252 L740,254.5 L731,253Z"/>
<path class="s" fill="#88b4dc" d="M752,254 L758,253.5 L763,256 L756,257.5Z"/>
<path class="s" fill="#88b4dc" d="M666,250 L674,250 L672,252 L666,252Z"/>
<path class="s" fill="#88b4dc" d="M870,262 L880,261 L886,263 L876,265Z"/>
<path class="s" fill="#88b4dc" d="M930,262 L940,261 L944,264 L934,265Z"/>
</g>
<g fill="none" stroke="#ffffff" stroke-width="0.8" stroke-opacity="0.85" stroke-linejoin="round">
<polyline points="166.7,334.2 200,336 240,339.2 252,341 260,343.7 267,346 272.8,353 265.8,362.3 271.7,364.7 283.3,360 295,356.5 306.7,354.2 316,350.7 323,347.2 334.7,343.7"/>
<polyline points="218.3,270.8 168.3,296.7"/>
<polyline points="894,326 898,334 910,332 930,336 950,338 956,348 954,352"/>
<polyline points="548,438.5 549,446 544,452 536,454 524,456 520,460"/>
<polyline points="511.7,448.3 508,456 500,458"/>
<polyline points="588,428 588,444 584,456 585,462"/>
<polyline points="620,436 618,446 616,456 618,464 624,468"/>
<polyline points="586,466 600,464 616,464"/>
<polyline points="587,476 604,480 624,478 632,478"/>
<polyline points="588,476 589,486 588,492 584,498 583,504 578,512"/>
<polyline points="660,450 658,464 660,480"/>
<polyline points="664,430 667,440 670,444 678,448"/>
<polyline points="640,488 652,484 658,492 652,500 642,501"/>
<polyline points="613.3,530 630,531.7 640,526.7 643,517 642,502"/>
<polyline points="656.7,535 660,540 659,548"/>
<polyline points="608.3,553.3 606.7,566.7 606.7,578 600,581 595,583"/>
<polyline points="606.7,576.7 618.3,575 626,570 633.3,565"/>
<polyline points="510,466 520,462 530,461 536,455"/>
<polyline points="546,456 548,462 543.8,470"/>
<polyline points="568,392 568.3,408 570,420 573,426"/>
<polyline points="621.7,402 621.7,430"/>
<polyline points="563,387 568,400"/>
<polyline points="271.7,503.3 261.7,513.3 258.3,520 263.3,526.7 276.7,533.3"/>
<polyline points="321.7,556.7 326.7,563.3 330,573.3"/>
<polyline points="300,484 308,490 318,490 330,490 338,489"/>
<polyline points="318,478 318,490"/>
<polyline points="330,480 330,490"/>
<polyline points="616,289 620,294 624,300 626,308 620,314"/>
<polyline points="605,322 618,323"/>
<polyline points="603,327 618,328"/>
<polyline points="622,318 624,326 630,334 636,339 642,340"/>
<polyline points="608,331 616,329 624,326"/>
<polyline points="812,402 820,406 836,410 846,411"/>
<polyline points="850,412 852,420 858,421 862,415"/>
<polyline points="704,361 716,365 730,367 744,369 758,372 770,372"/>
<polyline points="756,330 760,340 770,346 780,348 790,356"/>
<polyline points="283.3,557 286.7,563.3 289.2,570 290,583.3 291.3,596.7 294,610 296.7,618 300.7,626 306,634 308.7,642 312.7,650 319.3,658 325,662"/>
<polyline points="582,333.5 583,340 582,344 584,347"/>
<polyline points="572,345 576,347.5 584,349 590,348.5"/>
<polyline points="584,346 594,345.5 600,347 606,347.5"/>
<polyline points="588,349 589,354"/>
<polyline points="590,349.5 598,350.5"/>
<polyline points="584,356 592,356.5 598,358"/>
<polyline points="566,352.5 572,351.5 578,351"/>
<polyline points="557,338 558,344 556,346"/>
<polyline points="512,367 511,376 512,385"/>
<polyline points="597.5,350.5 600,355 603,358"/>
</g>
<g class="t" fill="#5a5a5a" font-size="16">
<text x="59.5" y="746.7" textLength="406.5" lengthAdjust="spacingAndGlyphs">Source: IMF staff using Google Maps.</text>
<text x="59.5" y="764.7" textLength="847" lengthAdjust="spacingAndGlyphs">Note: Country borders nor names necessarily reflect the IMF’s official position.</text>
</g>
<g opacity="1">
<text x="572" y="733" font-family="DejaVu Sans,sans-serif" font-weight="bold" font-size="26" fill="#dcdcdc" text-anchor="middle" direction="rtl" textLength="70" lengthAdjust="spacingAndGlyphs" transform="skewX(-12) translate(155,0)">فارس</text>
<path d="M619,727 L627.3,717.5 L635.6,727 L627.3,736.8Z" fill="#dadada" stroke="#dadada" stroke-width="3.5" stroke-linejoin="round"/>
<path d="M636.5,727.5 L648.5,717.6 L660.5,727.5 L648.5,737.4Z" fill="#d7d7d7" stroke="#d7d7d7" stroke-width="4" stroke-linejoin="round"/>
<path d="M634.5,720 L630.5,727 L634.5,734" fill="none" stroke="#fff" stroke-width="1.4"/>
</g>
<text x="1044.3" y="768.7" font-family="Liberation Sans,sans-serif" font-weight="bold" font-size="33.4" fill="#194d9c" stroke="#194d9c" stroke-width="0.9" textLength="99" lengthAdjust="spacingAndGlyphs">IMF</text>
<rect x="0" y="791" width="1200" height="9" fill="#2d5190"/>
<rect x="0" y="797" width="1200" height="3" fill="#263f6e"/>
<rect x="0" y="0" width="1200" height="1.5" fill="#2b2b2b"/>
<rect x="0" y="0" width="2.5" height="791" fill="#2b2b2b"/>
<rect x="1197.5" y="0" width="2.5" height="791" fill="#2b2b2b"/>
</svg>
</body></html>
